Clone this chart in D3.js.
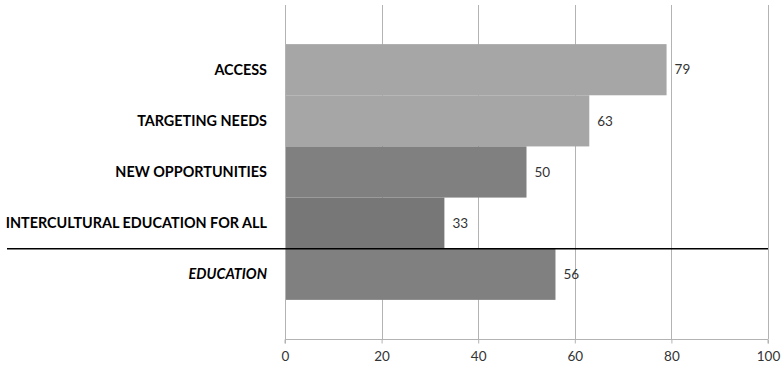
<!DOCTYPE html>
<html>
<head>
<meta charset="utf-8">
<script src="https://cdn.jsdelivr.net/npm/d3@7"></script>
<style>
  html, body { margin: 0; padding: 0; background: #fff; }
  svg { display: block; }
</style>
</head>
<body>
<svg id="chart" width="781" height="368"></svg>
<script>
// Categories, top to bottom
const categories = ["ACCESS", "TARGETING NEEDS", "NEW OPPORTUNITIES", "INTERCULTURAL EDUCATION FOR ALL", "EDUCATION"];
// Score per category
const values = [79, 63, 50, 33, 56];
// Fill per bar
const barColors = ["#a6a6a6", "#a6a6a6", "#808080", "#777777", "#808080"];
// Categories drawn in italics (the overall total)
const italicCats = ["EDUCATION"];
// X axis ticks
const xTicks = [0, 20, 40, 60, 80, 100];

const svg = d3.select("#chart");
const margin = { left: 285, right: 13, top: 5, bottom: 29 };
const W = 781, H = 368;

const x = d3.scaleLinear().domain([0, 100]).range([margin.left, W - margin.right]);
const y = d3.scaleBand().domain(categories)
  .range([margin.top, H - margin.bottom])
  .paddingInner(0).paddingOuter(0.765);

const labelFont = "Lato, 'Open Sans', sans-serif";

// Vertical gridlines
svg.append("g").selectAll("line")
  .data(xTicks.filter(t => t > 0))
  .join("line")
  .attr("x1", d => Math.round(x(d)) + 0.5).attr("x2", d => Math.round(x(d)) + 0.5)
  .attr("y1", margin.top).attr("y2", H - margin.bottom)
  .attr("stroke", "#b3b3b3").attr("stroke-width", 1);

// Bars
svg.append("g").selectAll("rect")
  .data(categories)
  .join("rect")
  .attr("x", x(0))
  .attr("y", d => y(d))
  .attr("width", (d, i) => x(values[i]) - x(0))
  .attr("height", y.bandwidth())
  .attr("fill", (d, i) => barColors[i]);

// Value labels
svg.append("g").selectAll("text")
  .data(categories)
  .join("text")
  .attr("x", (d, i) => x(values[i]) + 8)
  .attr("y", d => y(d) + y.bandwidth() / 2)
  .attr("dy", "0.35em")
  .attr("font-family", labelFont)
  .attr("font-size", 13.5)
  .attr("fill", "#333")
  .text((d, i) => values[i]);

// X axis
const xAxis = d3.axisBottom(x).tickValues(xTicks).tickSize(4).tickPadding(8);
const gx = svg.append("g")
  .attr("transform", `translate(0,${H - margin.bottom + 0.5})`)
  .call(xAxis);
gx.select(".domain").attr("stroke", "#b3b3b3").attr("d", `M${x(0)},4V0H${x(100)}V4`);
gx.selectAll(".tick line").attr("stroke", "#b3b3b3");
gx.selectAll(".tick text")
  .attr("font-family", labelFont)
  .attr("font-size", 13.5)
  .attr("fill", "#333");

// Y axis line
svg.append("line")
  .attr("x1", x(0) + 0.5).attr("x2", x(0) + 0.5)
  .attr("y1", margin.top).attr("y2", H - margin.bottom + 4)
  .attr("stroke", "#b3b3b3");

// Category labels
svg.append("g").selectAll("text")
  .data(categories)
  .join("text")
  .attr("x", x(0) - 18)
  .attr("y", d => y(d) + y.bandwidth() / 2)
  .attr("dy", "0.35em")
  .attr("text-anchor", "end")
  .attr("font-family", labelFont)
  .attr("font-size", 14.4)
  .attr("font-weight", "bold")
  .attr("font-style", d => italicCats.includes(d) ? "italic" : "normal")
  .attr("fill", "#000")
  .text(d => d);

// Separator between the components and the overall total
const sepY = y("EDUCATION");
svg.append("line")
  .attr("x1", 7).attr("x2", x(100))
  .attr("y1", sepY).attr("y2", sepY)
  .attr("stroke", "#000").attr("stroke-width", 1.5);
</script>
</body>
</html>
